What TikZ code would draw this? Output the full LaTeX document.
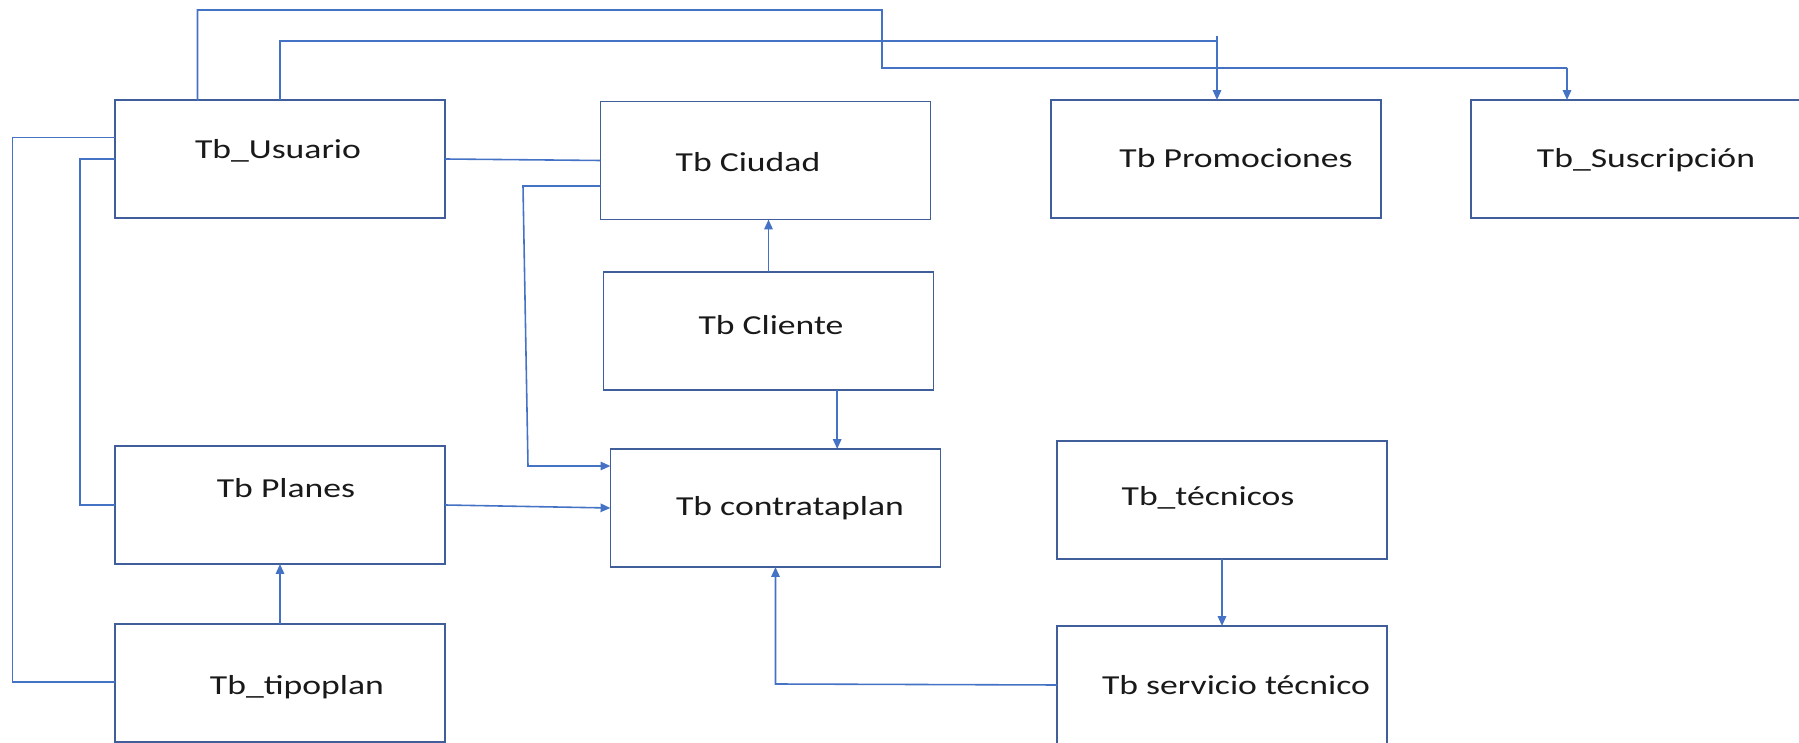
\documentclass[tikz,border=0pt]{standalone}
\usepackage{fontspec}
\setmainfont{Carlito}
\newfontfamily\lblfont[FakeStretch=1.3]{Carlito}
\usetikzlibrary{calc,arrows.meta}
\definecolor{boxc}{HTML}{3F5E9A}
\definecolor{linec}{HTML}{4472C4}
\begin{document}
\begin{tikzpicture}[x=0.01cm,y=-0.01cm,
  tbl/.style={draw=boxc,line width=0.5pt,fill=none,inner sep=0pt,outer sep=0pt,minimum width=3.30cm,minimum height=1.18cm},
  lbl/.style={inner sep=0pt,anchor=mid,font=\lblfont\fontsize{7.8pt}{10pt}\selectfont,text=black!90},
  conn/.style={draw=linec,line width=0.45pt},
  arr/.style={conn,-{Triangle[length=2.8pt,width=2.4pt]}}]
\useasboundingbox (0,0) rectangle (1799,743);
% boxes
\node[tbl] (usu) at (280,159) {};
\node[tbl] (ciu) at (765.5,160.5) {};
\node[tbl] (pro) at (1216,159) {};
\node[tbl,minimum width=3.34cm] (sus) at (1638,159) {};
\node[tbl] (cli) at (768.5,331) {};
\node[tbl] (pla) at (280,505) {};
\node[tbl] (con) at (775.5,508) {};
\node[tbl] (tec) at (1222,500) {};
\node[tbl] (tip) at (280,683) {};
\node[tbl] (ser) at (1222,685) {};
% labels
\node[lbl] (tusu) at (278,150) {Tb\_Usuario};
\node[lbl] (tciu) at (748,163) {Tb Ciudad};
\node[lbl] (tpro) at (1236,159) {Tb Promociones};
\node[lbl] (tsus) at (1646,159) {Tb\_Suscripción};
\node[lbl] (tcli) at (771,326) {Tb Cliente};
\node[lbl] (tpla) at (286,489) {Tb Planes};
\node[lbl] (tcon) at (790,507) {Tb contrataplan};
\node[lbl] (ttec) at (1208,497) {Tb\_técnicos};
\node[lbl] (ttip) at (297,686) {Tb\_tipoplan};
\node[lbl] (tser) at (1236,686) {Tb servicio técnico};
% helper coordinates
\coordinate (a1) at (197.5,10);
\coordinate (a2) at (882,10);
\coordinate (a3) at (882,68);
\coordinate (a4) at (1567,68);
\coordinate (b1) at (280,41);
\coordinate (b2) at (1217,41);
\coordinate (b3) at (1217,36);
\coordinate (c1) at (12.6,137.7);
\coordinate (c2) at (12.6,682);
\coordinate (d1) at (80,159);
\coordinate (d2) at (80,505);
\coordinate (e1) at (523,186);
\coordinate (e2) at (528,466);
\coordinate (f1) at (775.5,684);
% connectors
\draw[conn] ($(usu.north west)!0.25!(usu.north east)$) -- (a1 |- usu.north) -- (a1) -- (a2) -- (a3) -- (a4);
\draw[arr] (a4) -- (a4 |- sus.north);
\draw[conn] (usu.north) -- (b1) -- (b2);
\draw[arr] (b3) -- (b3 |- pro.north);
\draw[conn] (usu.north west |- c1) -- (c1) -- (c2) -- (c2 -| tip.west);
\draw[conn] (usu.west) -- (d1) -- (d2) -- (pla.west);
\draw[conn] (usu.east) -- (ciu.west);
\draw[arr] (ciu.west |- e1) -- (e1) -- (e2) -- (e2 -| con.west);
\draw[arr] (cli.north) -- (cli.north |- ciu.south);
\draw[arr] ($(cli.south west)!0.708!(cli.south east)$) coordinate (g1) -- (g1 |- con.north);
\draw[arr] (pla.east) -- (con.west);
\draw[arr] (tip.north) -- (pla.south);
\draw[arr] (tec.south) -- (ser.north);
\draw[arr] (ser.west) -- (f1) -- (con.south);
\end{tikzpicture}
\end{document}
